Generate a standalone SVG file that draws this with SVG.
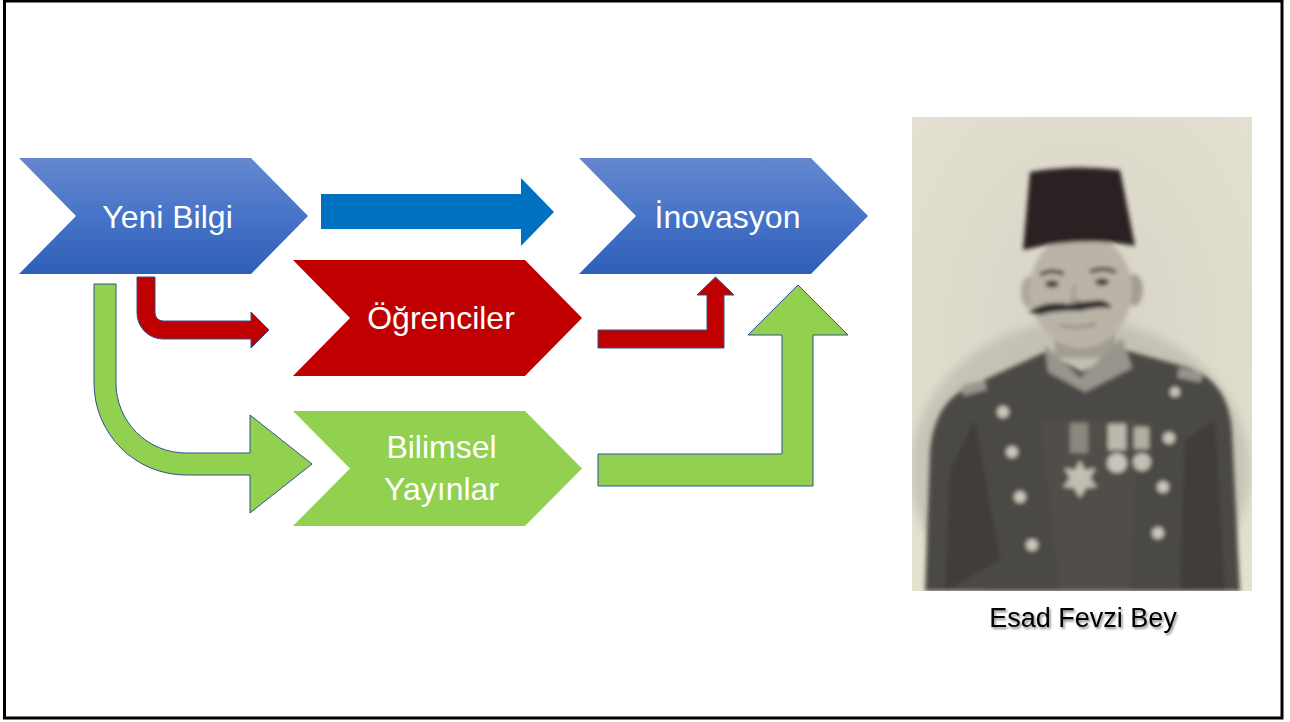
<svg xmlns="http://www.w3.org/2000/svg" width="1290" height="722" viewBox="0 0 1290 722">
<defs>
<linearGradient id="gBlue" x1="0" y1="0" x2="0" y2="1">
<stop offset="0" stop-color="#6587CE"/>
<stop offset="0.5" stop-color="#4774C8"/>
<stop offset="1" stop-color="#2E5EB6"/>
</linearGradient>
<radialGradient id="gBg" cx="0.5" cy="0.45" r="0.7">
<stop offset="0" stop-color="#d6d2c6"/>
<stop offset="1" stop-color="#e5e1d1"/>
</radialGradient>
<filter id="soft" x="-5%" y="-5%" width="110%" height="110%">
<feGaussianBlur stdDeviation="2"/>
</filter>
<filter id="soft2" x="-20%" y="-20%" width="140%" height="140%">
<feGaussianBlur stdDeviation="5"/>
</filter>
<filter id="shadow" x="-5%" y="-20%" width="115%" height="150%">
<feDropShadow dx="1.5" dy="2" stdDeviation="1.2" flood-color="#000" flood-opacity="0.45"/>
</filter>
<clipPath id="photoClip"><rect x="912" y="117" width="340" height="474"/></clipPath>
</defs>
<style>
.lbl{font-family:"Liberation Sans",Arial,sans-serif;font-size:32px;fill:#ffffff;text-anchor:middle}
.cap{font-family:"Liberation Sans",Arial,sans-serif;font-size:27px;fill:#000000;text-anchor:middle}
.bent{stroke:#2F528F;stroke-width:1;stroke-linejoin:miter}
.red{fill:#C00000}
.green{fill:#92D050}
.btn{fill:#cbc6ba}
</style>
<rect x="0" y="0" width="1290" height="722" fill="#ffffff"/>
<rect x="4.5" y="1" width="1277.5" height="717" fill="none" stroke="#000" stroke-width="3"/>

<g id="connectors">
<path id="c-yeni-inov" d="M321,194 L521,194 L521,178 L554,212 L521,246 L521,229 L321,229 Z" fill="#0070C0"/>
<path id="c-yeni-ogr" class="bent red" d="M137,277 L155,277 L155,313 A8,8 0 0 0 163,321 L251,321 L251,312 L269,330 L251,348 L251,339 L163,339 A26,26 0 0 1 137,313 Z"/>
<path id="c-yeni-bil" class="bent green" d="M94,284 L116,284 L116,383 A70,70 0 0 0 186,453 L250,453 L250,415 L312,464 L250,513 L250,475 L186,475 A92,92 0 0 1 94,383 Z"/>
<path id="c-ogr-inov" class="bent red" d="M598,330 L707,330 L707,295 L697,295 L715.5,277 L734,295 L724,295 L724,348 L598,348 Z"/>
<path id="c-bil-inov" class="bent green" d="M598,454 L782,454 L782,335 L748,335 L798,285 L848,335 L813,335 L813,486 L598,486 Z"/>
</g>

<g id="node-yeni-bilgi">
<path d="M19,158 L251,158 L308,216 L251,274 L19,274 L76,216 Z" fill="url(#gBlue)"/>
<text class="lbl" x="167.5" y="228">Yeni Bilgi</text>
</g>
<g id="node-inovasyon">
<path d="M579,158 L811,158 L868,216 L811,274 L579,274 L636,216 Z" fill="url(#gBlue)"/>
<text class="lbl" x="727.5" y="228">İnovasyon</text>
</g>
<g id="node-ogrenciler">
<path d="M293,260 L525,260 L582,318 L525,376 L293,376 L350,318 Z" fill="#C00000"/>
<text class="lbl" x="441" y="329">Öğrenciler</text>
</g>
<g id="node-bilimsel">
<path d="M293,411 L525,411 L582,468.5 L525,526 L293,526 L350,468.5 Z" fill="#92D050"/>
<text class="lbl" x="441.5" y="458">Bilimsel</text>
<text class="lbl" x="441.5" y="500">Yayınlar</text>
</g>

<g id="portrait">
<rect x="912" y="117" width="340" height="474" fill="url(#gBg)"/>
<g clip-path="url(#photoClip)">
<g filter="url(#soft2)" opacity="0.6">
<ellipse cx="1080" cy="470" rx="170" ry="150" fill="#b8b3a8"/>
</g>
<g filter="url(#soft)">
<path d="M925,591 L930,450 Q935,398 975,384 L1045,352 L1082,372 L1125,350 L1190,368 Q1228,382 1232,430 L1240,591 Z" fill="#4b4845"/>
<path d="M945,591 L950,470 L975,420 L1000,560 Z" fill="#3a3836" opacity="0.6"/>
<path d="M1180,591 L1185,440 L1215,420 L1225,591 Z" fill="#3a3836" opacity="0.7"/>
<path d="M1040,420 L1060,591 L1130,591 L1140,420 Z" fill="#55514c" opacity="0.6"/>
<rect x="1055" y="318" width="60" height="40" fill="#a29c91"/>
<path d="M1045,345 L1080,378 L1122,338 L1132,368 L1085,392 L1048,372 Z" fill="#9a958c"/>
<ellipse cx="1030" cy="292" rx="9" ry="16" fill="#ada79b"/>
<ellipse cx="1134" cy="290" rx="9" ry="16" fill="#a39d91"/>
<ellipse cx="1081" cy="290" rx="51" ry="58" fill="#bab4a8"/>
<path d="M1040,275 Q1052,268 1064,274" stroke="#4a4540" stroke-width="4" fill="none"/>
<path d="M1090,272 Q1102,266 1116,272" stroke="#4a4540" stroke-width="4" fill="none"/>
<ellipse cx="1052" cy="284" rx="7" ry="3.5" fill="#3d3834"/>
<ellipse cx="1102" cy="282" rx="7" ry="3.5" fill="#3d3834"/>
<path d="M1075,285 L1072,300 L1082,302" stroke="#8a847a" stroke-width="2" fill="none"/>
<path d="M1028,312 Q1045,300 1068,304 Q1080,302 1100,300 Q1110,302 1112,308 Q1098,306 1080,311 Q1058,310 1040,315 Z" fill="#2e2a27"/>
<path d="M1060,325 Q1078,330 1096,324" stroke="#7d776d" stroke-width="2" fill="none"/>
<path d="M1030,172 Q1075,164 1120,170 L1135,246 Q1080,236 1023,250 Z" fill="#2b2421"/>
<rect x="962" y="383" width="24" height="10" fill="#9a958c" transform="rotate(-15 974 388)"/>
<rect x="1178" y="370" width="24" height="10" fill="#9a958c" transform="rotate(12 1190 375)"/>
<circle class="btn" cx="1003" cy="412" r="6"/>
<circle class="btn" cx="1012" cy="452" r="6"/>
<circle class="btn" cx="1020" cy="497" r="6"/>
<circle class="btn" cx="1032" cy="545" r="6"/>
<circle class="btn" cx="1169" cy="438" r="6"/>
<circle class="btn" cx="1163" cy="487" r="6"/>
<circle class="btn" cx="1158" cy="533" r="6"/>
<circle class="btn" cx="1175" cy="392" r="5"/>
<rect x="1070" y="423" width="18" height="30" fill="#8c877e"/>
<polygon points="1080,460 1085,470 1096,468 1090,478 1097,487 1086,488 1080,498 1074,488 1063,487 1070,478 1064,468 1075,470" fill="#c3beb2"/>
<rect x="1108" y="424" width="18" height="26" fill="#bdb8ac"/>
<circle cx="1117" cy="463" r="10" fill="#c9c4b8"/>
<rect x="1134" y="427" width="15" height="22" fill="#b3aea2"/>
<circle cx="1142" cy="462" r="9" fill="#c4bfb3"/>
</g>
</g>
</g>
<g id="caption">
<text class="cap" x="1083" y="627" filter="url(#shadow)">Esad Fevzi Bey</text>
</g>
</svg>
